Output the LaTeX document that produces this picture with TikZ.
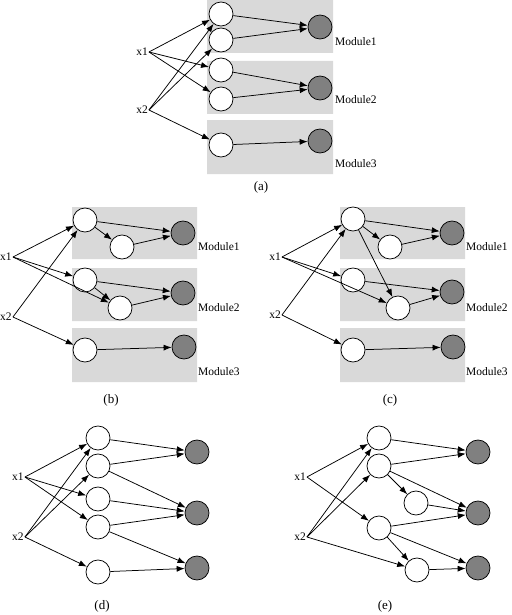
\documentclass[tikz,border=0pt]{standalone}
\usepackage{fontspec}
\setmainfont{Liberation Serif}
\usetikzlibrary{arrows.meta}
\begin{document}
\begin{tikzpicture}[x=1pt,y=-1pt,>={Latex[length=8pt,width=6pt]},line join=round,
	font=\fontsize{11.5}{13}\selectfont,
	hid/.style={circle,draw,fill=white,minimum size=24pt,inner sep=0pt,line width=0.75pt},
	outn/.style={hid,fill=gray},
	inp/.style={inner sep=1pt},
	modlab/.style={anchor=west,inner sep=1pt},
	capt/.style={font=\fontsize{13}{15}\selectfont},
	lnk/.style={->,line width=0.75pt}]
	\useasboundingbox (0,0) rectangle (511,615);
	% ---------- (a) ----------
	\fill[gray!30] (207,0) rectangle (333,53) (207,61) rectangle (333,114) (207,120) rectangle (333,174);
	\node[inp] (ax1) at (142,52) {x1};
	\node[inp] (ax2) at (142,110) {x2};
	\node[hid] (a1) at (221,14) {};
	\node[hid] (a2) at (221,40) {};
	\node[hid] (a3) at (221,70) {};
	\node[hid] (a4) at (221,99) {};
	\node[hid] (a5) at (221,145) {};
	\node[outn] (ga1) at (320,27) {};
	\node[outn] (ga2) at (320,88) {};
	\node[outn] (ga3) at (320,141) {};
	\node[modlab] (ma1) at (334,42) {Module1};
	\node[modlab] (ma2) at (334,100) {Module2};
	\node[modlab] (ma3) at (334,164) {Module3};
	\node[capt] (capa) at (261,187) {(a)};
	\foreach \s/\t in {ax1/a1,ax1/a3,ax1/a4,ax2/a1,ax2/a2,ax2/a5}
		\draw[lnk] (\s.east) -- (\t);
	\foreach \s/\t in {a1/ga1,a2/ga1,a3/ga2,a4/ga2,a5/ga3}
		\draw[lnk] (\s) -- (\t);
	% ---------- (b) ----------
	\fill[gray!30] (72,207) rectangle (197,259) (72,268) rectangle (197,321) (72,328) rectangle (197,382);
	\node[inp] (bx1) at (6,257) {x1};
	\node[inp] (bx2) at (6,317) {x2};
	\node[hid] (b1) at (85,220) {};
	\node[hid] (b2) at (122,247) {};
	\node[hid] (b3) at (85,280) {};
	\node[hid] (b4) at (120,308) {};
	\node[hid] (b5) at (85,350) {};
	\node[outn] (gb1) at (183,233) {};
	\node[outn] (gb2) at (183,293) {};
	\node[outn] (gb3) at (184,347) {};
	\node[modlab] (mb1) at (197,247) {Module1};
	\node[modlab] (mb2) at (197,308) {Module2};
	\node[modlab] (mb3) at (197,372) {Module3};
	\node[capt] (capb) at (111,400) {(b)};
	\foreach \s/\t in {bx1/b1,bx1/b3,bx1/b4,bx2/b1,bx2/b5}
		\draw[lnk] (\s.east) -- (\t);
	\foreach \s/\t in {b1/gb1,b1/b2,b2/gb1,b3/gb2,b3/b4,b4/gb2,b5/gb3}
		\draw[lnk] (\s) -- (\t);
	% ---------- (c) ----------
	\fill[gray!30] (340,207) rectangle (465,259) (340,268) rectangle (465,321) (340,328) rectangle (465,382);
	\node[inp] (cx1) at (275,257) {x1};
	\node[inp] (cx2) at (275,315) {x2};
	\node[hid] (c1) at (353,219) {};
	\node[hid] (c2) at (390,247) {};
	\node[hid] (c3) at (353,280) {};
	\node[hid] (c4) at (398,308) {};
	\node[hid] (c5) at (353,350) {};
	\node[outn] (gc1) at (452,233) {};
	\node[outn] (gc2) at (452,292) {};
	\node[outn] (gc3) at (453,347) {};
	\node[modlab] (mc1) at (465,247) {Module1};
	\node[modlab] (mc2) at (465,308) {Module2};
	\node[modlab] (mc3) at (465,372) {Module3};
	\node[capt] (capc) at (390,400) {(c)};
	\foreach \s/\t in {cx1/c1,cx1/c3,cx1/c4,cx2/c1,cx2/c5}
		\draw[lnk] (\s.east) -- (\t);
	\foreach \s/\t in {c1/gc1,c1/c2,c1/c4,c2/gc1,c3/gc2,c4/gc2,c5/gc3}
		\draw[lnk] (\s) -- (\t);
	% ---------- (d) ----------
	\node[inp] (dx1) at (18,477) {x1};
	\node[inp] (dx2) at (18,537) {x2};
	\node[hid] (d1) at (98,438) {};
	\node[hid] (d2) at (98,466) {};
	\node[hid] (d3) at (98,499) {};
	\node[hid] (d4) at (98,527) {};
	\node[hid] (d5) at (98,572) {};
	\node[outn] (gd1) at (197,452) {};
	\node[outn] (gd2) at (197,513) {};
	\node[outn] (gd3) at (197,568) {};
	\node[capt] (capd) at (102,606) {(d)};
	\foreach \s/\t in {dx1/d1,dx1/d3,dx1/d4,dx2/d1,dx2/d2,dx2/d5}
		\draw[lnk] (\s.east) -- (\t);
	\foreach \s/\t in {d1/gd1,d2/gd1,d2/gd2,d3/gd2,d4/gd2,d4/gd3,d5/gd3}
		\draw[lnk] (\s) -- (\t);
	% ---------- (e) ----------
	\node[inp] (ex1) at (300,477) {x1};
	\node[inp] (ex2) at (300,537) {x2};
	\node[hid] (e1) at (379,438) {};
	\node[hid] (e2) at (379,466) {};
	\node[hid] (e3) at (416,503) {};
	\node[hid] (e4) at (379,528) {};
	\node[hid] (e5) at (417,570) {};
	\node[outn] (ge1) at (478,452) {};
	\node[outn] (ge2) at (478,513) {};
	\node[outn] (ge3) at (478,568) {};
	\node[capt] (cape) at (385,606) {(e)};
	\foreach \s/\t in {ex1/e1,ex1/e4,ex2/e1,ex2/e2,ex2/e5}
		\draw[lnk] (\s.east) -- (\t);
	\foreach \s/\t in {e1/ge1,e2/ge1,e2/e3,e2/ge2,e3/ge2,e4/ge2,e4/e5,e4/ge3,e5/ge3}
		\draw[lnk] (\s) -- (\t);
\end{tikzpicture}
\end{document}
